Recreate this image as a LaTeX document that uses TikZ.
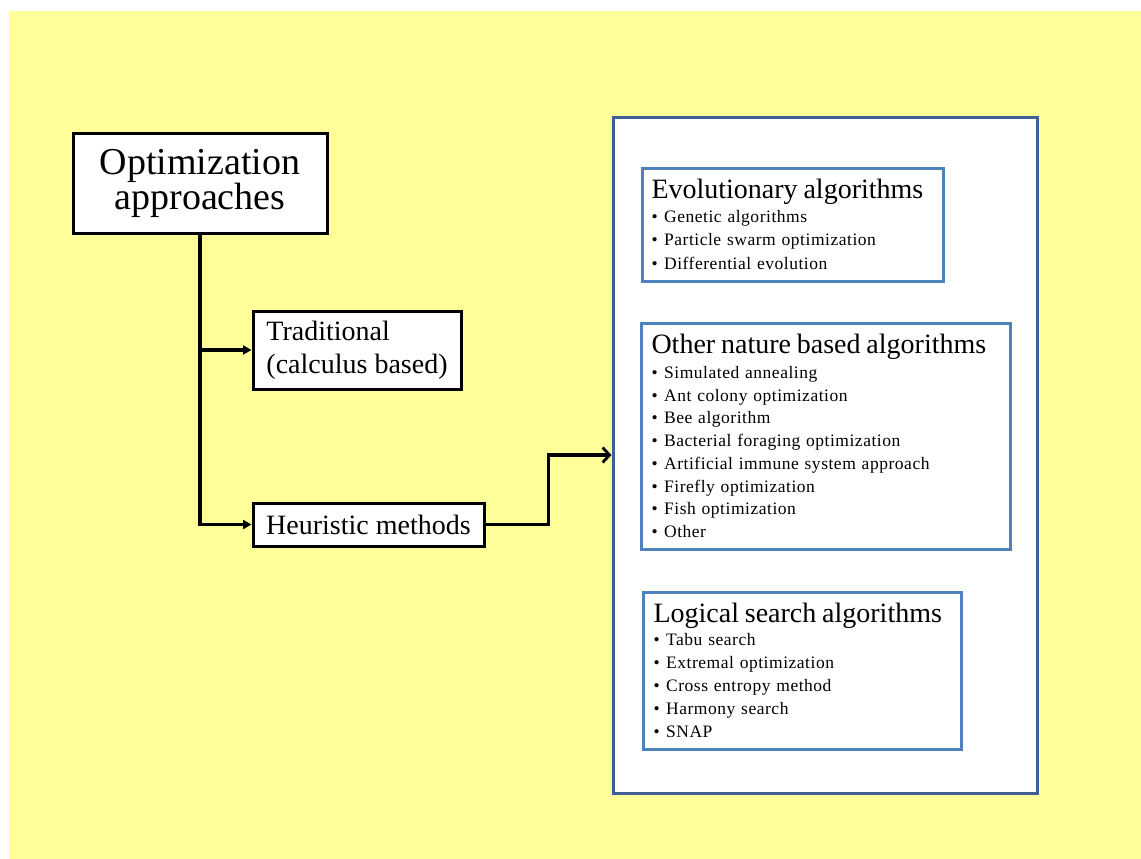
\documentclass[tikz,border=0pt]{standalone}
\usepackage{fontspec}
\setmainfont{Liberation Serif}
\newfontfamily\itemfont[LetterSpace=3]{Liberation Serif}
\usetikzlibrary{arrows.meta}
\definecolor{bgyellow}{RGB}{255,255,153}
\definecolor{outerblue}{RGB}{62,96,150}
\definecolor{innerblue}{RGB}{79,129,189}
\newcommand{\boxtitle}[1]{{\rmfamily\fontsize{28}{28}\selectfont #1}}
\newcommand{\bitem}[1]{•\hspace{6.5pt}#1}
\begin{document}
\begin{tikzpicture}[x=1pt,y=-1pt,
  blk/.style={draw=black,line width=3pt,fill=white,anchor=north west,align=center,inner sep=0pt},
  bigbox/.style={draw=outerblue,line width=3pt,fill=white,anchor=north west,inner sep=0pt},
  inbox/.style={draw=innerblue,line width=3pt,fill=white,anchor=north west,align=left,inner ysep=0pt},
  conn/.style={line width=3.2pt,line join=miter},
  ftip/.style={-{Triangle[length=8.5pt,width=9pt]}},
  btip/.style={-{Straight Barb[length=7pt,width=15pt,line width=2.8pt]}}]
\fill[white] (0,0) rectangle (1141,859);
\fill[bgyellow] (9,11) rectangle (1141,859);
\useasboundingbox (0,0) rectangle (1141,859);

\node[blk,minimum width=254pt,minimum height=100pt,font=\fontsize{38}{35}\selectfont] (opt) at (71.5,131.5) {Optimization\\approaches};
\node[blk,minimum width=208pt,minimum height=78pt,align=left,font=\fontsize{28}{33}\selectfont] (trad) at (251.5,309.5) {Traditional\\(calculus based)};
\node[blk,minimum width=231pt,minimum height=43pt,font=\fontsize{28}{33}\selectfont] (heur) at (251.5,501.5) {Heuristic methods};

\node[bigbox,minimum width=424pt,minimum height=676pt] (big) at (611.5,115.5) {};

\node[inbox,minimum width=301pt,minimum height=113pt,inner xsep=9.5pt,text width=282pt,font=\itemfont\fontsize{17.5}{23.5}\selectfont] (evo) at (640.5,166.5)
 {\boxtitle{Evolutionary algorithms}\\
  \bitem{Genetic algorithms}\\
  \bitem{Particle swarm optimization}\\
  \bitem{Differential evolution}};

\node[inbox,minimum width=369pt,minimum height=226pt,inner xsep=10.5pt,text width=348pt,font=\itemfont\fontsize{17.5}{22.7}\selectfont] (nat) at (639.5,321.5)
 {\boxtitle{Other nature based algorithms}\\[2pt]
  \bitem{Simulated annealing}\\
  \bitem{Ant colony optimization}\\
  \bitem{Bee algorithm}\\
  \bitem{Bacterial foraging optimization}\\
  \bitem{Artificial immune system approach}\\
  \bitem{Firefly optimization}\\
  \bitem{Fish optimization}\\
  \bitem{Other}};

\node[inbox,minimum width=318pt,minimum height=157pt,inner xsep=10.5pt,text width=297pt,font=\itemfont\fontsize{17.5}{23}\selectfont] (log) at (641.5,590.5)
 {\boxtitle{Logical search algorithms}\\
  \bitem{Tabu search}\\
  \bitem{Extremal optimization}\\
  \bitem{Cross entropy method}\\
  \bitem{Harmony search}\\
  \bitem{SNAP}};

\draw[conn,ftip] (opt.south) |- (trad.west);
\draw[conn,ftip] (opt.south) |- (heur.west);
\draw[conn,btip] (heur.east) -- ++(63,0) |- (big.west);
\end{tikzpicture}
\end{document}
